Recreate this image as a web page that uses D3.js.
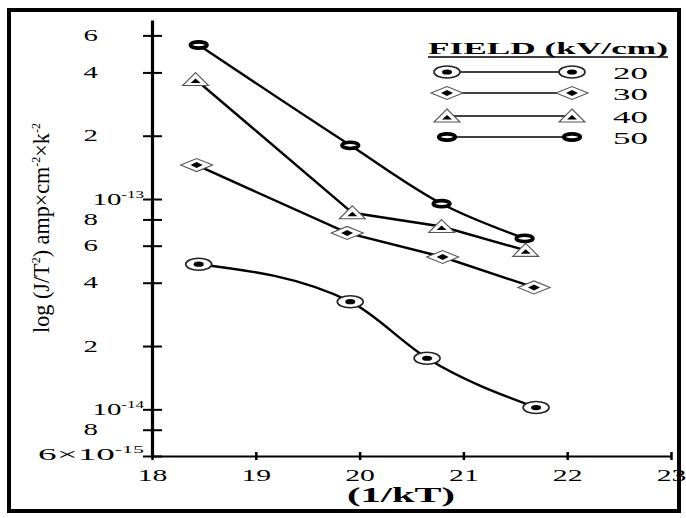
<!DOCTYPE html>
<html><head><meta charset="utf-8">
<script src="https://cdn.jsdelivr.net/npm/d3@7"></script>
<style>body{margin:0;background:#fff}svg{display:block}</style>
</head><body>
<svg id="chart" width="686" height="518"></svg>
<script>
// ---- data ----
const xTicks = [18, 19, 20, 21, 22, 23];
const yTickValues = [6e-13, 4e-13, 2e-13, 1e-13, 8e-14, 6e-14, 4e-14, 2e-14, 1e-14, 8e-15, 6e-15];
const yTickLabels = ["6", "4", "2", "10^-13", "8", "6", "4", "2", "10^-14", "8", "6×10^-15"];
const fields = ["20", "30", "40", "50"];
const markerTypes = ["dot", "diamond", "triangle", "ring"];
const x20 = [18.45, 19.91, 20.65, 21.70];
const y20 = [4.9e-14, 3.25e-14, 1.75e-14, 1.02e-14];
const x30 = [18.43, 19.88, 20.80, 21.68];
const y30 = [1.45e-13, 6.9e-14, 5.3e-14, 3.8e-14];
const x40 = [18.42, 19.93, 20.79, 21.60];
const y40 = [3.7e-13, 8.6e-14, 7.4e-14, 5.7e-14];
const x50 = [18.45, 19.91, 20.79, 21.59];
const y50 = [5.4e-13, 1.8e-13, 9.5e-14, 6.5e-14];
const seriesX = [x20, x30, x40, x50];
const seriesY = [y20, y30, y40, y50];
const legendTitle = "FIELD (kV/cm)";
const xTitle = "(1/kT)";

// ---- setup ----
const serif = "'Liberation Serif','Times New Roman',serif";
const svg = d3.select("#chart");
svg.append("rect").attr("x", 9).attr("y", 10).attr("width", 670).attr("height", 501)
  .attr("fill", "none").attr("stroke", "#000").attr("stroke-width", 4);

const x = d3.scaleLinear().domain([18, 23]).range([152, 671]);
const y = d3.scaleLog().domain([6e-15, 7.1e-13]).range([456, 20]);

function stretch(textSel, width) {
  const w = textSel.node().getBBox().width;
  textSel.attr("transform", `scale(${width / w},1)`);
}
function addLabel(textSel, label, supSize, supDy) {
  const parts = label.split("^");
  textSel.append("tspan").text(parts[0]);
  if (parts[1]) textSel.append("tspan").attr("font-size", supSize).attr("dy", supDy).text(parts[1]);
}

// ---- x axis ----
const gx = svg.append("g").attr("transform", `translate(0,${y(6e-15)})`)
  .call(d3.axisBottom(x).tickValues(xTicks).tickSize(5).tickSizeOuter(0).tickFormat(""));
gx.select(".domain").attr("stroke", "#000").attr("stroke-width", 2);
gx.selectAll(".tick line").attr("y1", -4).attr("y2", 4).attr("stroke", "#000").attr("stroke-width", 2.5);
gx.selectAll(".tick").each(function (d) {
  const t = d3.select(this).append("text").attr("text-anchor", "middle").attr("y", 25)
    .attr("font-family", serif).attr("font-size", 17).attr("fill", "#000").text(d);
  t.attr("transform", "scale(1.75,1)");
});

// ---- y axis ----
const gy = svg.append("g").attr("transform", `translate(${x(18)},0)`)
  .call(d3.axisLeft(y).tickValues(yTickValues).tickSize(9).tickSizeOuter(0).tickFormat(""));
gy.select(".domain").attr("stroke", "#000").attr("stroke-width", 3.2);
gy.selectAll(".tick line").attr("x1", 10).attr("x2", -9).attr("stroke", "#000").attr("stroke-width", 2);
gy.selectAll(".tick").each(function (d, i) {
  const lab = yTickLabels[i];
  const isDec = lab.includes("^");
  const last = i === yTickLabels.length - 1;
  const g = d3.select(this).append("g").attr("transform", `translate(${isDec ? -8 : -54},${last ? 3 : 5})`);
  const t = g.append("text").attr("text-anchor", "end").attr("font-family", serif)
    .attr("font-size", 17).attr("fill", "#000");
  addLabel(t, lab, 10, -7);
  if (last) stretch(t, 106); else t.attr("transform", "scale(1.7,1)");
});

// ---- titles ----
const xt = svg.append("g").attr("transform", "translate(401,502)").append("text")
  .attr("text-anchor", "middle").attr("font-family", serif).attr("font-weight", "bold")
  .attr("font-size", 20).attr("fill", "#000").text(xTitle);
stretch(xt, 108);

const yt = svg.append("g").attr("transform", "translate(49,228) rotate(-90)").append("text")
  .attr("text-anchor", "middle").attr("font-family", serif)
  .attr("font-size", 24).attr("fill", "#000");
yt.append("tspan").text("log (J/T");
yt.append("tspan").attr("font-size", 13).attr("dy", -9).text("2");
yt.append("tspan").attr("dy", 9).text(") amp×cm");
yt.append("tspan").attr("font-size", 13).attr("dy", -9).text("-2");
yt.append("tspan").attr("dy", 9).text("×k");
yt.append("tspan").attr("font-size", 13).attr("dy", -9).text("-2");
stretch(yt, 210);

// ---- markers ----
function drawMarker(g, type, cx, cy) {
  const m = g.append("g").attr("transform", `translate(${cx},${cy})`);
  if (type === "dot") {
    m.append("ellipse").attr("rx", 13).attr("ry", 6).attr("fill", "#fff").attr("stroke", "#222").attr("stroke-width", 1.6);
    m.append("ellipse").attr("rx", 5).attr("ry", 2.6).attr("fill", "#000");
  } else if (type === "diamond") {
    m.append("polygon").attr("points", "-16,0 0,-6.5 16,0 0,6.5").attr("fill", "#fff").attr("stroke", "#555").attr("stroke-width", 1.1);
    m.append("polygon").attr("points", "-6,0 0,-3 6,0 0,3").attr("fill", "#000");
  } else if (type === "triangle") {
    m.append("polygon").attr("points", "0,-7 13,6 -13,6").attr("fill", "#fff").attr("stroke", "#555").attr("stroke-width", 1.1);
    m.append("polygon").attr("points", "0,-1 5,3.5 -5,3.5").attr("fill", "#000");
  } else {
    m.append("ellipse").attr("rx", 8.3).attr("ry", 3.1).attr("fill", "#fff").attr("stroke", "#000").attr("stroke-width", 3.6);
  }
}

// ---- series ----
const curved = d3.line().x(d => x(d[0])).y(d => y(d[1])).curve(d3.curveMonotoneX);
const straight = d3.line().x(d => x(d[0])).y(d => y(d[1]));
const plot = svg.append("g");
seriesX.forEach((xs, s) => {
  const pts = xs.map((v, i) => [v, seriesY[s][i]]);
  const gen = (s === 0 || s === 3) ? curved : straight;
  plot.append("path").attr("d", gen(pts)).attr("fill", "none").attr("stroke", "#000").attr("stroke-width", 2.4);
});
seriesX.forEach((xs, s) => {
  xs.forEach((v, i) => drawMarker(plot, markerTypes[s], x(v), y(seriesY[s][i])));
});

// ---- legend ----
const lg = svg.append("g");
const ht = lg.append("g").attr("transform", "translate(428,54)").append("text")
  .attr("font-family", serif).attr("font-weight", "bold").attr("font-size", 17).attr("fill", "#000").text(legendTitle);
stretch(ht, 240);
lg.append("line").attr("x1", 428).attr("x2", 668).attr("y1", 57).attr("y2", 57).attr("stroke", "#000").attr("stroke-width", 1.6);
const rowY = [72, 93, 116, 137];
fields.forEach((f, i) => {
  const yy = rowY[i];
  lg.append("line").attr("x1", 447).attr("x2", 572).attr("y1", yy).attr("y2", yy).attr("stroke", "#000").attr("stroke-width", 1.5);
  drawMarker(lg, markerTypes[i], 447, yy);
  drawMarker(lg, markerTypes[i], 572, yy);
  const t = lg.append("g").attr("transform", `translate(613,${yy + 7})`).append("text")
    .attr("font-family", serif).attr("font-size", 16).attr("fill", "#000").text(f);
  stretch(t, 35);
});
</script>
</body></html>
